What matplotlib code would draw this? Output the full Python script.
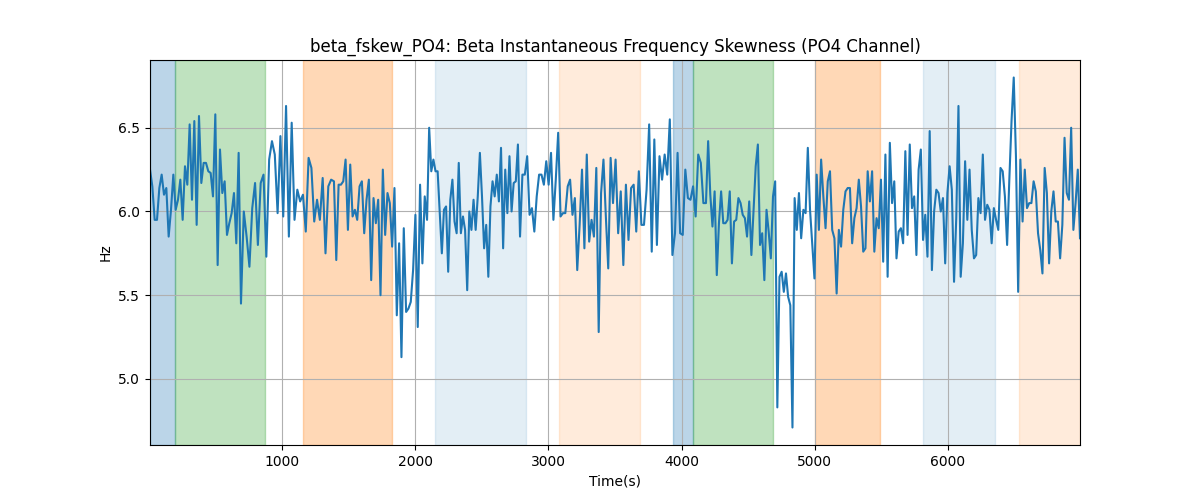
import matplotlib
matplotlib.use("Agg")
import matplotlib.pyplot as plt
import numpy as np

# ---- data ----
# beta_fskew_PO4 values, split into consecutive time segments
seg_edges = [9, 692, 1390, 2089, 2787, 3485, 4183, 4881, 5580, 6278, 6991]

seg_1 = [6.25, 6.15, 5.95, 5.95, 6.14, 6.22, 6.10, 6.14, 5.85, 6.01, 6.22, 6.01, 6.07,
         6.19, 5.95, 6.27, 6.16, 6.52, 6.07, 6.54, 5.92, 6.57, 6.17, 6.29, 6.29, 6.24,
         6.23, 6.09, 6.58, 5.68, 6.37, 6.11, 6.18, 5.86, 5.93, 5.99, 6.11, 5.81, 6.35]
seg_2 = [5.45, 6.00, 5.85, 5.67, 6.02, 6.17, 5.80, 6.17, 6.22, 5.73, 6.31, 6.42, 6.34,
         5.99, 6.45, 5.97, 6.63, 5.85, 6.53, 5.95, 6.13, 6.06, 6.10, 5.88, 6.32, 6.26,
         5.94, 6.07, 5.95, 6.20, 5.75, 6.15, 6.19]
seg_3 = [6.18, 5.71, 6.16, 6.16, 6.18, 6.31, 5.89, 6.28, 5.97, 6.01, 5.95, 6.15, 6.18,
         5.87, 6.07, 6.19, 5.59, 6.08, 5.93, 6.07, 5.50, 6.25, 5.86, 6.11, 6.05, 5.79,
         6.14, 5.38, 5.81, 5.13, 5.90, 5.40, 5.42, 5.46, 5.65, 5.98, 5.31, 6.16, 5.69,
         6.09]
seg_4 = [5.95, 6.50, 6.24, 6.31, 6.24, 6.24, 6.00, 5.75, 6.01, 6.03, 5.64, 6.07, 6.19,
         5.94, 5.87, 6.29, 5.87, 5.97, 5.89, 5.53, 6.00, 5.89, 6.07, 5.89, 6.09, 6.35,
         6.09, 5.78, 5.92, 5.61, 6.03, 6.18, 6.09, 6.22, 6.06, 6.38, 5.78, 6.25, 5.99,
         6.33, 6.00, 6.17, 6.18, 6.40]
seg_5 = [5.85, 6.22, 6.22, 6.33, 5.98, 6.02, 5.88, 6.09, 6.22, 6.22, 6.16, 6.30, 6.16,
         6.35, 5.95, 6.19, 6.47, 5.97, 5.99, 5.99, 6.15, 6.19, 5.98, 6.08, 5.65, 5.92,
         6.25, 5.78, 6.34, 5.82, 5.95, 5.85, 6.26, 5.28, 6.11, 6.31, 5.97, 5.66, 6.32]
seg_6 = [6.05, 6.31, 5.87, 6.12, 5.68, 6.16, 5.83, 6.14, 6.16, 5.88, 6.24, 5.92, 5.92,
         6.13, 6.52, 5.76, 6.43, 5.80, 6.33, 6.19, 6.34, 6.22, 6.55, 5.74, 5.87, 6.35,
         5.87, 5.86, 6.25, 6.08, 6.07, 6.15, 5.97, 6.34, 6.29, 6.05]
seg_7 = [6.05, 6.42, 6.10, 5.91, 6.12, 5.62, 5.93, 6.12, 5.93, 5.93, 5.95, 6.12, 5.69,
         5.94, 5.95, 6.08, 6.05, 5.98, 5.96, 5.85, 6.06, 5.74, 6.01, 6.27, 6.40, 5.80,
         5.87, 5.59, 6.01, 5.88, 5.72, 6.09, 6.18, 4.83, 5.61, 5.64, 5.52, 5.63, 5.49,
         5.44, 4.71, 6.08, 5.89]
seg_8 = [6.11, 5.84, 6.01, 5.99, 6.38, 6.01, 5.81, 5.60, 6.22, 5.89, 6.31, 6.09, 5.90,
         6.18, 6.24, 5.89, 5.84, 5.51, 5.89, 5.79, 6.01, 6.12, 6.14, 6.14, 5.81, 5.96,
         6.02, 6.19, 6.03, 5.76, 5.78, 6.24, 6.06, 6.24, 5.76, 5.96, 5.90, 6.19, 5.70,
         6.34, 5.61, 6.41]
seg_9 = [6.05, 6.18, 5.72, 5.88, 5.90, 5.81, 6.36, 5.86, 6.40, 6.02, 6.09, 5.74, 6.25,
         6.37, 5.83, 5.98, 5.73, 6.48, 5.65, 6.00, 6.13, 6.11, 6.00, 6.08, 5.69, 6.11,
         6.27, 6.13, 5.58, 5.96, 6.63, 5.61, 5.81, 6.30, 5.95, 6.25, 5.89, 5.72, 5.74,
         6.08, 5.99, 6.34]
seg_10 = [5.95, 6.04, 6.01, 5.81, 6.02, 5.95, 5.89, 6.26, 6.24, 6.09, 5.80, 6.19, 6.54,
          6.80, 6.33, 5.52, 6.31, 5.94, 6.25, 6.02, 6.05, 6.05, 6.18, 6.12, 5.87, 5.77,
          5.63, 6.26, 6.11, 5.69, 6.00, 6.12, 5.94, 5.94, 5.72, 5.92, 6.44, 6.11, 6.07,
          6.50, 5.89, 6.05, 6.25, 5.84]

segments = [seg_1, seg_2, seg_3, seg_4, seg_5, seg_6, seg_7, seg_8, seg_9, seg_10]

# shaded intervals: (start, end, colour, alpha)
span_start = [9, 196, 1158, 2150, 3081, 3937, 4088, 5000, 5812, 6532]
span_end = [196, 872, 1826, 2833, 3690, 4088, 4689, 5489, 6352, 6991]
span_color = ["tab:blue", "tab:green", "tab:orange", "tab:blue", "tab:orange",
              "tab:blue", "tab:green", "tab:orange", "tab:blue", "tab:orange"]
span_alpha = [0.3, 0.3, 0.3, 0.12, 0.15, 0.3, 0.3, 0.3, 0.12, 0.15]

# ---- build series ----
times, values = [], []
for k, seg in enumerate(segments):
    t = np.linspace(seg_edges[k], seg_edges[k + 1], len(seg), endpoint=(k == len(segments) - 1))
    times.extend(t)
    values.extend(seg)
times = np.array(times)
values = np.array(values)

fig, ax = plt.subplots(figsize=(12, 5), dpi=100)

for s, e, c, a in zip(span_start, span_end, span_color, span_alpha):
    ax.axvspan(s, e, color=c, alpha=a)

ax.plot(times, values, color="tab:blue", linewidth=1.5)

ax.set_xlim(times[0], times[-1])
ax.grid(True)
ax.set_title("beta_fskew_PO4: Beta Instantaneous Frequency Skewness (PO4 Channel)")
ax.set_xlabel("Time(s)")
ax.set_ylabel("Hz")

fig.savefig("out.png", dpi=100)
